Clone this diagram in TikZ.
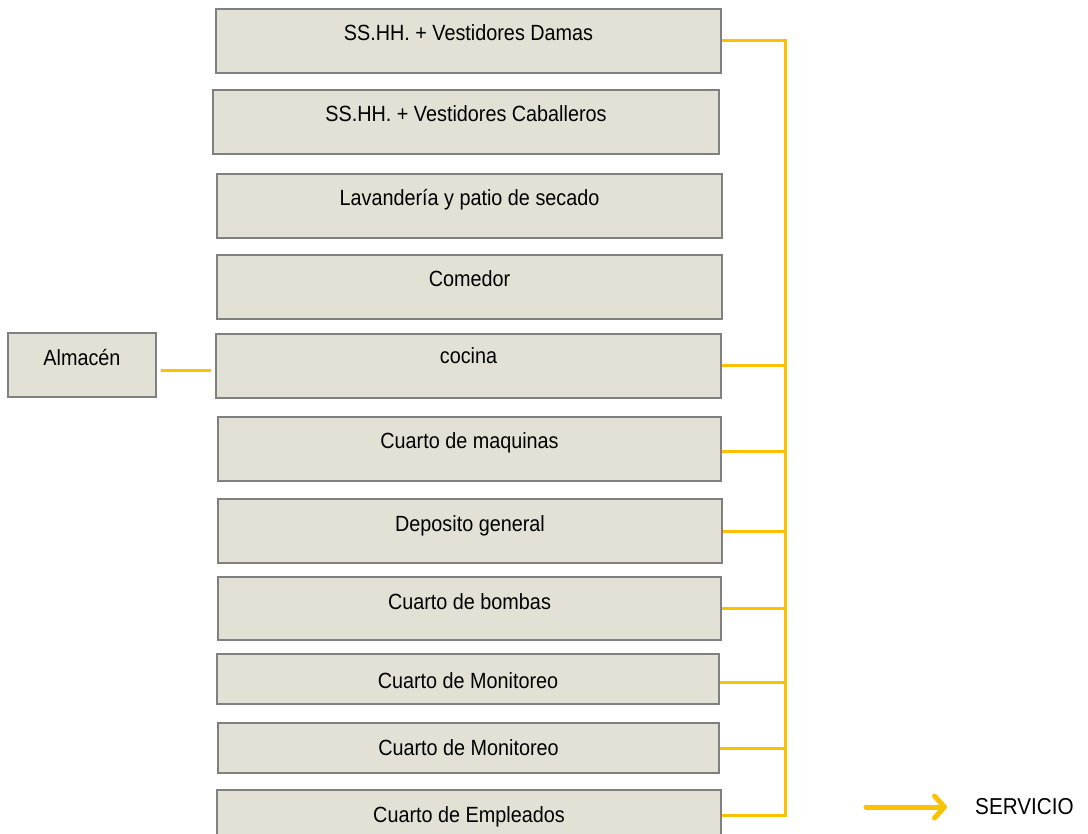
\documentclass[tikz,border=0pt]{standalone}
\usepackage{fontspec}
\setmainfont{Liberation Sans}[FakeStretch=0.9]
\usetikzlibrary{arrows.meta,calc}
\definecolor{roomfill}{RGB}{227,225,213}
\definecolor{roomline}{RGB}{128,128,128}
\definecolor{servyellow}{RGB}{255,192,0}
\newcommand{\roombox}[7]{% name, x1, y1, x2, y2, baseline offset, text
  \pgfmathsetmacro{\rbw}{#4-#2}%
  \pgfmathsetmacro{\rbd}{#5-#3-#6}%
  \node[room, minimum width=\rbw pt, text height=#6pt, text depth=\rbd pt] (#1) at ({(#2+#4)/2},#3) {#7};%
}
\begin{document}
\begin{tikzpicture}[x=1pt,y=-1pt,
  room/.style={draw=roomline, line width=2pt, fill=roomfill, inner sep=0pt, anchor=north,
    font=\fontsize{22}{26}\selectfont},
  serv/.style={draw=servyellow, line width=3pt},
  legendarrow/.style={draw=servyellow, line width=5pt, line cap=round,
    -{Straight Barb[round,length=10pt,width=22pt]}}]
\useasboundingbox (0,0) rectangle (1088,834);
\clip (0,0) rectangle (1088,834);
\fill[white] (0,0) rectangle (1088,834);

\roombox{b1}{216}{8}{721}{72}{32}{SS.HH. + Vestidores Damas}
\roombox{b2}{213}{89}{719}{153}{32}{SS.HH. + Vestidores Caballeros}
\roombox{b3}{217}{173}{722}{237}{32}{Lavandería y patio de secado}
\roombox{b4}{217}{254}{722}{318}{32}{Comedor}
\roombox{b5}{216}{333}{721}{397}{30}{cocina}
\roombox{b6}{218}{416}{721}{480}{32}{Cuarto de maquinas}
\roombox{b7}{218}{498}{722}{562}{32}{Deposito general}
\roombox{b8}{218}{576}{721}{639}{32}{Cuarto de bombas}
\roombox{b9}{217}{653}{719}{703}{34}{Cuarto de Monitoreo}
\roombox{b10}{218}{722}{719}{772}{32}{Cuarto de Monitoreo}
\roombox{b11}{217}{789}{721}{839}{32}{Cuarto de Empleados}
\roombox{alm}{8}{332}{156}{396}{33}{Almacén}

% service bus
\coordinate (bus) at (785,0);
\draw[serv] (b1.east) -- (b1.east -| bus) -- ([yshift=-0.5pt]b11.east -| bus) -- ([yshift=-0.5pt]b11.east);
\draw[serv] (b5.east) -- (b5.east -| bus);
\draw[serv] ([yshift=-2.5pt]b6.east) -- ([yshift=-2.5pt]b6.east -| bus);
\draw[serv] (b7.east) -- (b7.east -| bus);
\draw[serv] (b8.east) -- (b8.east -| bus);
\draw[serv] ([yshift=-3pt]b9.east) -- ([yshift=-3pt]b9.east -| bus);
\draw[serv] (b10.east) -- (b10.east -| bus);

% almacen - cocina
\draw[serv, shorten <=4pt, shorten >=4pt] ([yshift=-6pt]alm.east) -- ([yshift=-6pt]alm.east -| b5.west);

% legend
\coordinate (la) at (866,807);
\coordinate (lb) at (947,807);
\draw[legendarrow] (la) -- (lb);
\node[font=\fontsize{23}{27}\selectfont, anchor=west, inner sep=0pt] (serv) at (975,807) {SERVICIO};
\end{tikzpicture}
\end{document}
